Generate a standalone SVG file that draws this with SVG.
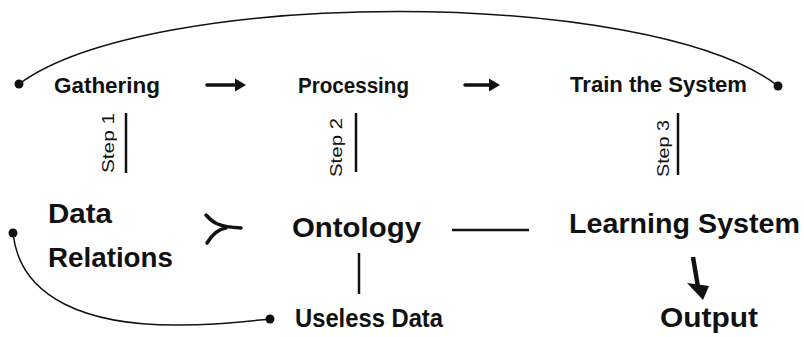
<svg xmlns="http://www.w3.org/2000/svg" width="804" height="337" viewBox="0 0 804 337">
<style>
.t{font-family:"Liberation Sans",Arial,sans-serif;font-weight:bold;fill:#111}
.s{font-family:"Liberation Sans",Arial,sans-serif;font-size:16px;fill:#111}
.thin{fill:none;stroke:#111;stroke-width:1.5}
.bar{stroke:#111;stroke-width:2.5;fill:none}
.thick{stroke:#111;stroke-width:3.5;fill:none;stroke-linecap:round}
.dot{fill:#111}
.head{fill:#111}
</style>
<rect width="804" height="337" fill="#fff"/>
<g id="connectors">
  <path class="thin" d="M 19 84 C 150 -13, 650 -13, 778 86"/>
  <circle class="dot" cx="19" cy="84" r="4.5"/>
  <circle class="dot" cx="778" cy="86" r="4.5"/>
  <path class="thin" d="M 13 233 C 20 300, 90 326, 180 325 C 220 325, 250 321, 270 319"/>
  <circle class="dot" cx="13" cy="233" r="4.5"/>
  <circle class="dot" cx="270" cy="319" r="4.5"/>
  <line class="thick" x1="207" y1="85" x2="238" y2="85" stroke-linecap="butt"/>
  <polygon class="head" points="235,78.5 246,85 235,91.5"/>
  <line class="thick" x1="465" y1="85" x2="492" y2="85" stroke-linecap="butt"/>
  <polygon class="head" points="489,78.5 500,85 489,91.5"/>
  <path class="thick" d="M 206 215 C 212 222, 218 227, 241 228"/>
  <path class="thick" d="M 207 243 C 212 235, 218 229, 226 228"/>
  <line class="bar" x1="452" y1="230" x2="529" y2="230" stroke-width="3"/>
  <line class="bar" x1="359" y1="253" x2="359" y2="294"/>
  <line x1="693" y1="257" x2="698" y2="287" stroke="#111" stroke-width="4.5"/>
  <polygon class="head" points="687,283 709,286 703,300"/>
  <line class="bar" x1="126" y1="113" x2="126" y2="173"/>
  <line class="bar" x1="356" y1="113" x2="356" y2="172"/>
  <line class="bar" x1="678" y1="113" x2="678" y2="175"/>
</g>
<g id="gathering"><text class="t" x="54" y="93" font-size="22" textLength="106" lengthAdjust="spacingAndGlyphs">Gathering</text></g>
<g id="processing"><text class="t" x="298" y="93" font-size="22" textLength="111" lengthAdjust="spacingAndGlyphs">Processing</text></g>
<g id="train"><text class="t" x="570" y="92" font-size="22" textLength="177" lengthAdjust="spacingAndGlyphs">Train the System</text></g>
<g id="step1"><text class="s" transform="translate(114,173) rotate(-90)" x="0" y="0" textLength="60" lengthAdjust="spacingAndGlyphs">Step 1</text></g>
<g id="step2"><text class="s" transform="translate(342,177) rotate(-90)" x="0" y="0" textLength="59" lengthAdjust="spacingAndGlyphs">Step 2</text></g>
<g id="step3"><text class="s" transform="translate(669,177) rotate(-90)" x="0" y="0" textLength="57" lengthAdjust="spacingAndGlyphs">Step 3</text></g>
<g id="data-relations">
  <text class="t" x="48" y="223" font-size="28" textLength="64" lengthAdjust="spacingAndGlyphs">Data</text>
  <text class="t" x="48" y="267" font-size="27" textLength="125" lengthAdjust="spacingAndGlyphs">Relations</text>
</g>
<g id="ontology"><text class="t" x="292" y="237" font-size="28" textLength="129" lengthAdjust="spacingAndGlyphs">Ontology</text></g>
<g id="learning"><text class="t" x="569" y="233" font-size="28" textLength="231" lengthAdjust="spacingAndGlyphs">Learning System</text></g>
<g id="useless"><text class="t" x="295" y="327" font-size="25" textLength="148" lengthAdjust="spacingAndGlyphs">Useless Data</text></g>
<g id="output"><text class="t" x="660" y="327" font-size="27" textLength="98" lengthAdjust="spacingAndGlyphs">Output</text></g>
</svg>
